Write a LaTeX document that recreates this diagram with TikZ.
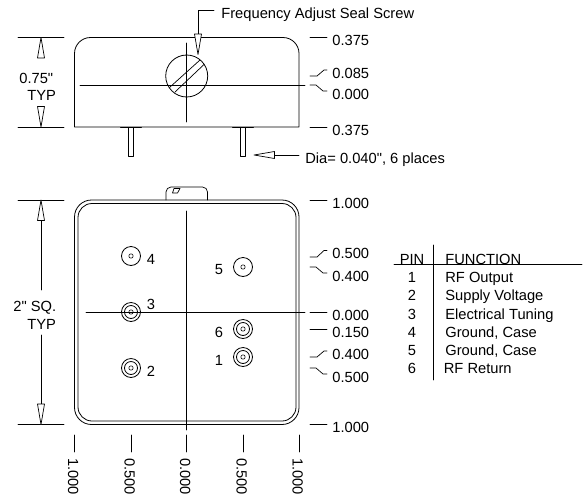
\documentclass[tikz,border=0pt]{standalone}
\usepackage{fontspec}
\setmainfont{Liberation Sans}[Ligatures=TeXOff]
\tikzset{
	dim text/.style={font=\fontsize{14.7}{14.7}\selectfont, inner sep=0pt, anchor=base west},
	pin label/.style={font=\fontsize{14.7}{14.7}\selectfont, inner sep=0pt, anchor=base},
	hollow/.style={draw, fill=white, line width=0.7pt},
	body line/.style={line width=0.8pt},
}
\newcommand{\pinsingle}[3]{
	\draw[body line] (#1,#2) circle (9.5);
	\draw[line width=0.6pt] (#1,#2) circle (2.2);
	\coordinate (#3) at (#1,#2);
}
\newcommand{\pindouble}[3]{
	\draw[body line] (#1,#2) circle (9.5);
	\draw[body line] (#1,#2) circle (6.5);
	\draw[line width=0.6pt] (#1,#2) circle (2.2);
	\coordinate (#3) at (#1,#2);
}
\newcommand{\tallhead}[3]{
	% tip at (#1,#2), direction #3
	\draw[hollow, rotate around={#3:(#1,#2)}] (#1,#2)--(#1-3.5,#2+20.5)--(#1+3.5,#2+20.5)--cycle;
}
\begin{document}
\begin{tikzpicture}[x=1pt, y=-1pt, line cap=round, line join=round, line width=0.7pt]
	\useasboundingbox (0,0) rectangle (588,498);
	% side view
	\draw[body line] (74.5,127)--(74.5,53.5) arc[start angle=180, end angle=90, radius=16pt]
		--(283,37.5) arc[start angle=90, end angle=0, radius=16pt]--(299,127)--cycle;
	\draw (80,85)--(305,85);
	\draw (186.7,43)--(186.7,122);
	\draw[body line] (186.7,76) circle (21);
	\draw (169.5,87.5)--(200,60);
	\draw (175,92)--(204,64.5);
	\foreach \x in {131,243}{
		\draw (\x-10.5,127.6)--(\x+10.5,127.6);
		\draw (\x-2.7,128)--(\x-2.7,156)--(\x+2.7,156)--(\x+2.7,128);
	}
	% screw callout
	\node[dim text] (screwText) at (221,18) {Frequency Adjust Seal Screw};
	\draw (214,10)--(198,10)--(198,34);
	\tallhead{198}{54.5}{180}
	% pin diameter callout
	\node[dim text] (diaText) at (305,163) {Dia= 0.040", 6 places};
	\draw (299,155)--(274,155);
	\tallhead{254}{155}{90}
	% height dimension
	\draw (18,37.5)--(64,37.5);
	\draw (18,127)--(64,127);
	\tallhead{41}{37.5}{0}
	\tallhead{41}{127}{180}
	\node[dim text] (hText) at (19,83) {0.75"};
	\node[dim text] (hTyp) at (27,100) {TYP};
	% side view ticks
	\foreach \y in {37.5,127}{
		\draw (310,\y)--(327,\y);
	}
	\node[dim text] at (332,45) {0.375};
	\node[dim text] at (332,78) {0.085};
	\node[dim text] at (332,99) {0.000};
	\node[dim text] at (332,135) {0.375};
	\draw (310,76)--(317,76)--(324,70)--(327,70);
	\draw (310,85)--(316,85)--(323,91)--(327,91);
	% top view
	\draw[body line, rounded corners=17pt] (74.5,300)--(74.5,200)--(299,200)--(299,424.5)--(74.5,424.5)--(74.5,300);
	\draw[body line, rounded corners=14pt] (78,300)--(78,203.5)--(296,203.5)--(296,421)--(78,421)--(78,300);
	\draw[rounded corners=5pt] (166,200)--(166,187)--(207.5,187)--(207.5,200);
	\draw (172.5,193)--(174,188.5)--(180,188.5)--(177.5,193)--cycle;
	\draw (186.7,211)--(186.7,430);
	\draw (86,312)--(305,312);
	\pinsingle{131}{256}{pinFour}
	\pinsingle{243}{267}{pinFive}
	\pindouble{131}{312}{pinThree}
	\pindouble{243}{329}{pinSix}
	\pindouble{243}{357}{pinOne}
	\pindouble{131}{368}{pinTwo}
	\foreach \x/\y/\t in {151/264/4, 151/309/3, 151/376/2, 219/274/5, 219/337/6, 219/365/1}{
		\node[pin label] at (\x,\y) {\t};
	}
	% square dimension
	\draw (18,200)--(64,200);
	\draw (18,424.5)--(64,424.5);
	\draw (41,220)--(41,290);
	\draw (41,335)--(41,404);
	\tallhead{41}{200}{0}
	\tallhead{41}{424.5}{180}
	\node[dim text] at (13,311) {2" SQ.};
	\node[dim text] at (27,329) {TYP};
	% top view ticks
	\foreach \y in {200,312,329,424.5}{
		\draw (310,\y)--(327,\y);
	}
	\draw (310,257)--(317,257)--(324,250.5)--(327,250.5);
	\draw (310,267)--(316,267)--(323,273)--(327,273);
	\draw (310,357)--(317,357)--(324,351)--(327,351);
	\draw (310,368)--(316,368)--(323,374)--(327,374);
	\foreach \y/\t in {208/1.000, 258/0.500, 281/0.400, 320/0.000, 337/0.150, 359/0.400, 382/0.500, 432/1.000}{
		\node[dim text] at (332,\y) {\t};
	}
	% bottom ticks
	\foreach \x/\t in {74.5/1.000, 131/0.500, 186.7/0.000, 243/0.500, 299/1.000}{
		\draw (\x,435)--(\x,452);
		\node[dim text, rotate=-90] at (\x-6.5,458) {\t};
	}
	% pin table
	\draw (394,264.5)--(582,264.5);
	\draw (433.7,245)--(433.7,380);
	\node[pin label] at (412,264) {PIN};
	\node[dim text] at (445,264) {FUNCTION};
	\foreach \n/\y/\t in {1/282/RF Output, 2/300/Supply Voltage, 3/319/Electrical Tuning, 4/337/{Ground, Case}, 5/355/{Ground, Case}}{
		\node[pin label] at (412,\y) {\n};
		\node[dim text] at (445,\y) {\t};
	}
	\node[pin label] at (412,373) {6};
	\node[dim text] at (443.5,373) {RF Return};
\end{tikzpicture}
\end{document}
